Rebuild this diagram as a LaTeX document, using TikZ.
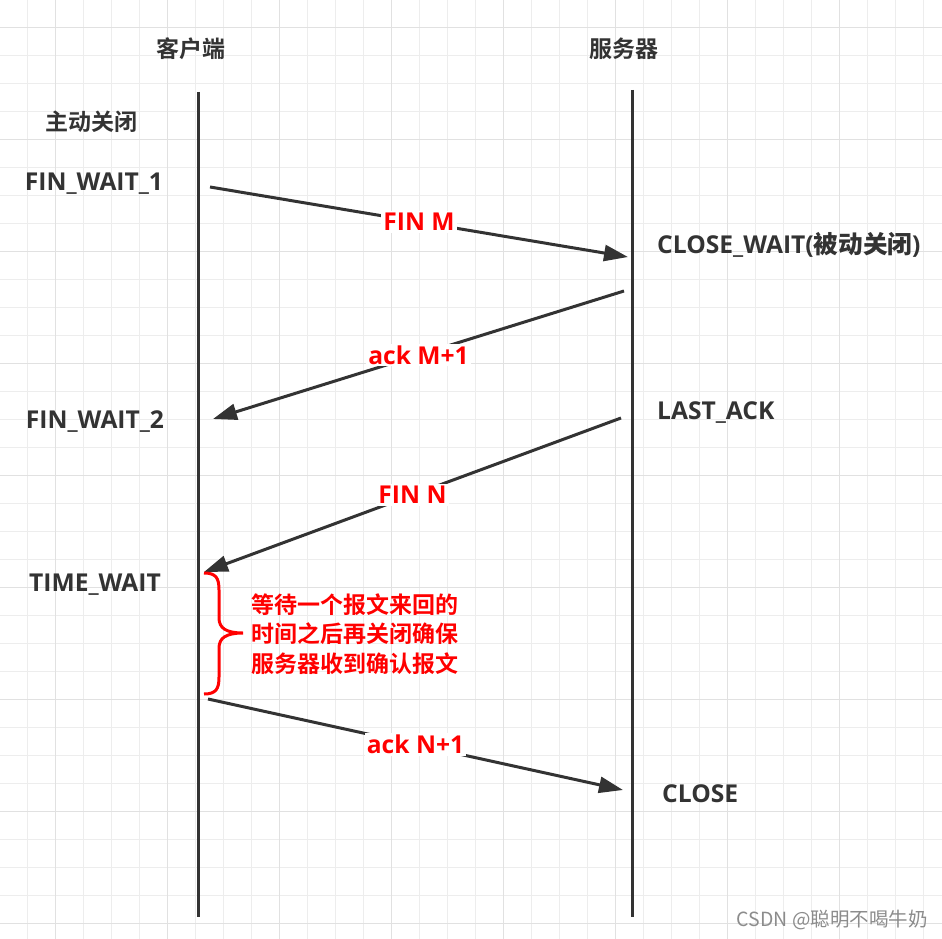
\documentclass[tikz,border=0pt]{standalone}
\usepackage{fontspec}
\setmainfont{Open Sans}
\newfontfamily\cjkbf{Noto Sans CJK SC Bold}
\newfontfamily\cjk{Noto Sans CJK SC}
\usetikzlibrary{arrows.meta}
\definecolor{tcdark}{HTML}{333333}
\definecolor{tcred}{HTML}{FF0000}
\definecolor{tcgrid}{HTML}{EDEDED}
\definecolor{tcgridmaj}{HTML}{E1E1E1}
\definecolor{tcmark}{HTML}{8C8C8C}
\tikzset{
  state/.style={font=\fontsize{24.6}{28}\selectfont\bfseries, text=tcdark, inner sep=0pt},
  head/.style={font=\fontsize{23}{27}\selectfont\cjkbf, text=tcdark, inner sep=0pt},
  lifeline/.style={draw=tcdark, line width=3pt},
  msg/.style={-{Triangle[length=24pt,width=16pt]}, draw=tcdark, line width=3pt},
  lbl/.style={fill=white, text=tcred, font=\fontsize{24.6}{28}\selectfont\bfseries, inner sep=2pt},
  note/.style={text=tcred, font=\fontsize{23}{29.5}\selectfont\cjkbf, align=left, inner sep=0pt},
  bracket/.style={draw=tcred, line width=3pt},
  gridminor/.style={draw=tcgrid, line width=1.6pt},
  gridmajor/.style={draw=tcgridmaj, line width=1.6pt},
}

\begin{document}
\begin{tikzpicture}[x=1pt,y=-1pt]
\useasboundingbox (0,0) rectangle (942,939);
% --- background grid
\fill[white] (0,0) rectangle (942,939);
\foreach \k in {0,...,33} {
  \draw[gridminor] (28*\k-0.7,0) -- (28*\k-0.7,939);
  \draw[gridminor] (0,28*\k-0.5) -- (942,28*\k-0.5);
}
\foreach \k in {0,...,7} \draw[gridmajor] (55.3+112*\k,0) -- (55.3+112*\k,939);
\foreach \k in {0,...,8} \draw[gridmajor] (0,27.5+112*\k) -- (942,27.5+112*\k);

% --- lifelines
\node[head,anchor=base] (client) at (191,58) {客户端};
\node[head,anchor=base] (server) at (624,58) {服务器};
\coordinate (ctop) at (198,92);  \coordinate (cbot) at (198,917);
\coordinate (stop) at (632,90);  \coordinate (sbot) at (632,917);
\draw[lifeline] (ctop) -- (cbot);
\draw[lifeline] (stop) -- (sbot);

% --- states
\node[head,anchor=base] (active) at (91.5,130.5) {主动关闭};
\node[state,anchor=base] (fw1) at (94,190) {FIN\_WAIT\_1};
\node[state,anchor=base] (fw2) at (95,428) {FIN\_WAIT\_2};
\node[state,anchor=base] (tw) at (95,591) {TIME\_WAIT};
\node[state,anchor=base west] (cw) at (657,253) {CLOSE\_WAIT({\cjkbf 被动关闭})};
\node[state,anchor=base west] (la) at (657,419) {LAST\_ACK};
\node[state,anchor=base west] (cl) at (662,802) {CLOSE};

% --- messages
\coordinate (c1) at (210,187);  \coordinate (s1) at (628,257);
\coordinate (s2) at (624,291);  \coordinate (c2) at (213,419);
\coordinate (s3) at (621,418);  \coordinate (c3) at (204,572);
\coordinate (c4) at (208,699);  \coordinate (s4) at (623,790);
\draw[msg] (c1) -- node[lbl] (finm) {FIN M} (s1);
\draw[msg] (s2) -- node[lbl] (ackm) {ack M+1} (c2);
\draw[msg] (s3) -- node[lbl] (finn) {FIN N} (c3);
\draw[msg] (c4) -- node[lbl] (ackn) {ack N+1} (s4);

% --- wait interval
\coordinate (bt) at (204,573);
\coordinate (btip) at (243,633);
\coordinate (bb) at (204,694);
\draw[bracket] (bt) .. controls (216,573) and (219,578) .. (219,590) -- (219,618)
   .. controls (219,628) and (226,633) .. (btip)
   .. controls (226,633) and (219,638) .. (219,648) -- (219,677)
   .. controls (219,689) and (216,694) .. (bb);
\node[note,anchor=west] (wait) at (251,634) {等待一个报文来回的\\时间之后再关闭确保\\服务器收到确认报文};

% --- watermark
\node[anchor=base east,inner sep=0pt,text=tcmark,font=\fontsize{19.5}{22}\selectfont\cjk] (mark) at (928,926) {CSDN @聪明不喝牛奶};
\end{tikzpicture}
\end{document}
